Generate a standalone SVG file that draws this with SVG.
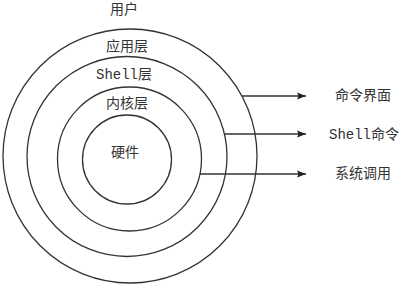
<svg xmlns="http://www.w3.org/2000/svg" width="400" height="289" viewBox="0 0 400 289">
<style>
.ring{fill:none;stroke:#333;stroke-width:1.3}
.conn{fill:none;stroke:#333;stroke-width:1.3}
text{font-family:"Liberation Mono","Noto Sans CJK SC",sans-serif;font-size:14px;fill:#333;dominant-baseline:central}
.c{text-anchor:middle}
</style>
<defs>
<marker id="arr" markerWidth="10" markerHeight="8" refX="9" refY="4" orient="auto" markerUnits="userSpaceOnUse">
<path d="M0,0.5 L9,4 L0,7.5 L1.5,4 Z" fill="#222"/>
</marker>
</defs>
<rect width="400" height="289" fill="#fff"/>
<g id="user"><text class="c" x="124" y="10">用户</text></g>
<g id="app-layer"><circle class="ring" cx="130" cy="156" r="127"/><text class="c" x="127" y="47">应用层</text></g>
<g id="shell-layer"><circle class="ring" cx="127" cy="156.5" r="100"/><text class="c" x="124" y="75">Shell层</text></g>
<g id="kernel-layer"><circle class="ring" cx="129.5" cy="159" r="72"/><text class="c" x="127" y="104">内核层</text></g>
<g id="hardware"><circle class="ring" cx="127" cy="159.5" r="44.5"/><text class="c" x="125" y="153">硬件</text></g>
<g id="connectors">
<line class="conn" x1="242" y1="96" x2="306" y2="96" marker-end="url(#arr)"/>
<line class="conn" x1="224.5" y1="134" x2="306" y2="134" marker-end="url(#arr)"/>
<line class="conn" x1="200" y1="174" x2="306" y2="174" marker-end="url(#arr)"/>
</g>
<g id="label-cmd-ui"><text x="335" y="96">命令界面</text></g>
<g id="label-shell-cmd"><text x="329" y="135">Shell命令</text></g>
<g id="label-syscall"><text x="335" y="174">系统调用</text></g>
</svg>
